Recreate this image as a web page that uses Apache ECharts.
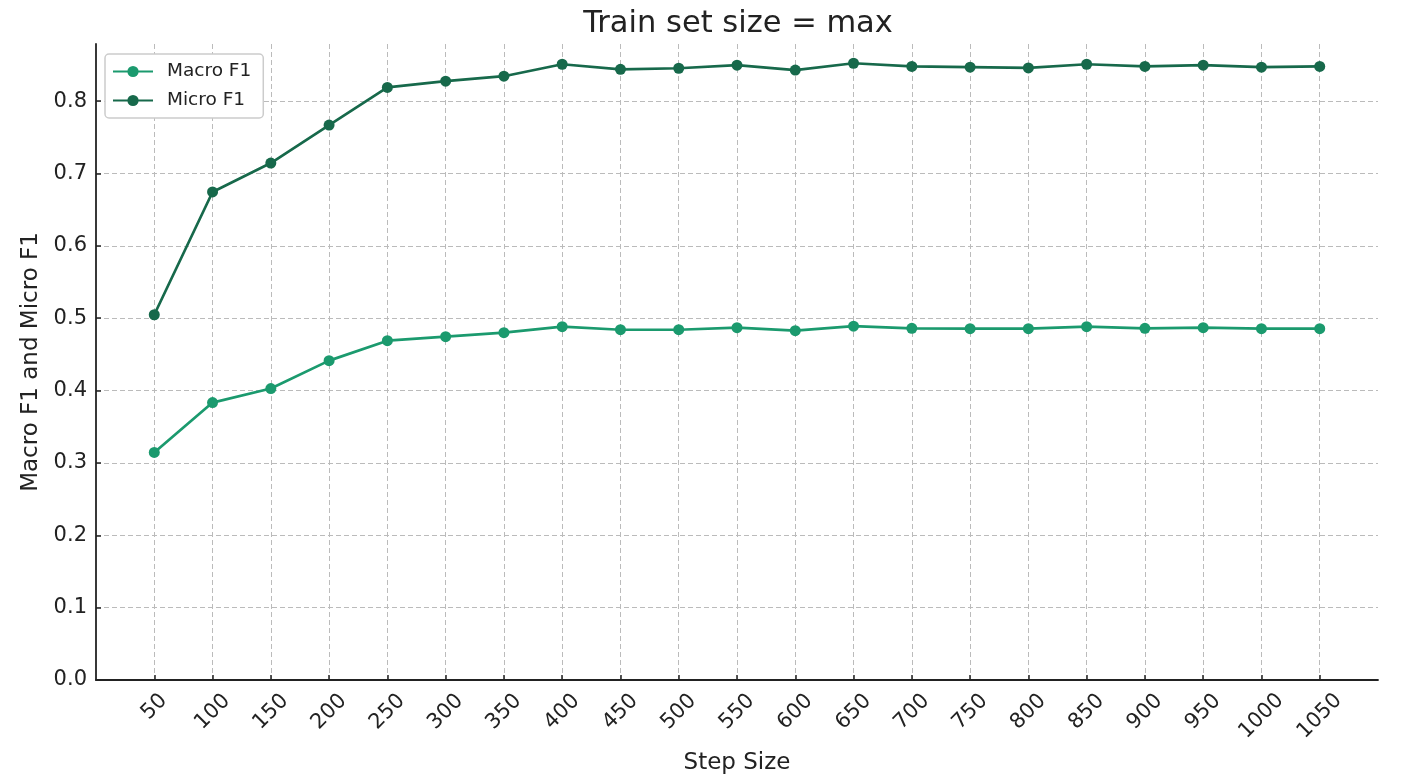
<!DOCTYPE html>
<html><head><meta charset="utf-8">
<script src="https://cdn.jsdelivr.net/npm/echarts@6/dist/echarts.min.js"></script>
<style>html,body{margin:0;padding:0;background:#fff}#c{width:1414px;height:780px}</style>
</head><body><div id="c"></div>
<script>
const steps = [50,100,150,200,250,300,350,400,450,500,550,600,650,700,750,800,850,900,950,1000,1050];
const macroF1 = [0.3145,0.3834,0.4028,0.4414,0.469,0.4745,0.480,0.4883,0.4841,0.4841,0.4869,0.4828,0.489,0.486,0.4855,0.4855,0.4883,0.486,0.4869,0.4855,0.4855];
const microF1 = [0.5048,0.6745,0.7145,0.767,0.819,0.8276,0.8345,0.851,0.844,0.8455,0.8497,0.843,0.8524,0.848,0.847,0.846,0.851,0.848,0.8497,0.847,0.848];
const FONT = 'DejaVu Sans';
const chart = echarts.init(document.getElementById('c'));
const mk = (arr) => steps.map((s, i) => [s, arr[i]]);
const lab = {fontSize: 21, color: '#222', fontFamily: FONT};
chart.setOption({
  animation: false,
  textStyle: {fontFamily: FONT},
  title: {text: 'Train set size = max', left: 733, textAlign: 'center', top: 4,
    textStyle: {fontFamily: FONT, fontSize: 30.5, fontWeight: 'normal', color: '#222'}},
  legend: {left: 105, top: 54, orient: 'vertical', itemWidth: 40, itemHeight: 14, itemGap: 10,
    padding: [8, 12, 8, 7], borderColor: '#ccc', borderWidth: 1.5, borderRadius: 4, backgroundColor: '#fff',
    textStyle: {fontFamily: FONT, fontSize: 18.5, color: '#222', padding: [0, 0, 0, 9]},
    data: ['Macro F1', 'Micro F1']},
  grid: {left: 96, right: 36, top: 44, bottom: 99},
  xAxis: {type: 'value', min: 0, max: 1100, interval: 50,
    name: 'Step Size', nameLocation: 'middle', nameGap: 72,
    nameTextStyle: {fontFamily: FONT, fontSize: 23, color: '#222'},
    axisLine: {lineStyle: {color: '#222', width: 1.8}},
    axisTick: {inside: true, length: 5, lineStyle: {color: '#222', width: 1.5}},
    axisLabel: {rotate: 45, fontSize: 21, color: '#222', fontFamily: FONT, margin: 27,
      align: 'center', verticalAlign: 'middle', showMinLabel: false, showMaxLabel: false,
      formatter: v => {
        if (v === 0 || v === 1100) return '';
        const s = String(v);
        return s.length >= 4 ? '{d|' + s + '}' : s.length === 3 ? '{c|' + s + '}' : '{b|' + s + '}';
      },
      rich: {
        b: Object.assign({}, lab),
        c: Object.assign({padding: [7, 7, 0, 0]}, lab),
        d: Object.assign({padding: [13, 13, 0, 0]}, lab)
      }},
    splitLine: {show: true, showMinLine: false, showMaxLine: false, lineStyle: {type: [5, 3], color: '#bbb', width: 1}}},
  yAxis: {type: 'value', min: 0, max: 0.879, interval: 0.1,
    name: 'Macro F1 and Micro F1', nameLocation: 'middle', nameGap: 52,
    nameTextStyle: {fontFamily: FONT, fontSize: 23, color: '#222'},
    axisLine: {show: true, lineStyle: {color: '#222', width: 1.8}},
    axisTick: {show: true, inside: true, length: 5, lineStyle: {color: '#222', width: 1.5}},
    axisLabel: {fontSize: 21, color: '#222', fontFamily: FONT, margin: 9, showMaxLabel: false,
      formatter: v => v.toFixed(1)},
    splitLine: {show: true, showMinLine: false, showMaxLine: false, lineStyle: {type: [5, 3], color: '#bbb', width: 1}}},
  series: [
    {name: 'Macro F1', type: 'line', data: mk(macroF1), symbol: 'circle', symbolSize: 11,
      lineStyle: {width: 2.7, color: '#1b9a6e'}, itemStyle: {color: '#1b9a6e'}},
    {name: 'Micro F1', type: 'line', data: mk(microF1), symbol: 'circle', symbolSize: 11,
      lineStyle: {width: 2.7, color: '#17694b'}, itemStyle: {color: '#17694b'}}
  ]
});
</script></body></html>
